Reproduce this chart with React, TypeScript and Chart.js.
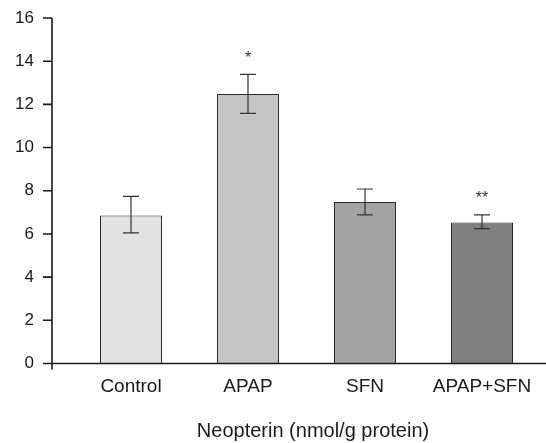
import React, { useEffect, useRef } from "react";
import { Chart, registerables } from "chart.js";

Chart.register(...registerables);

const categories = ["Control", "APAP", "SFN", "APAP+SFN"];
const means = [6.85, 12.48, 7.48, 6.53];
const errLow = [6.05, 11.58, 6.88, 6.25];
const errHigh = [7.74, 13.39, 8.08, 6.88];
const marks = ["", "*", "", "**"];
const colors = ["#e2e2e2", "#c4c5c4", "#a3a4a3", "#808080"];
const yTicks = [0, 2, 4, 6, 8, 10, 12, 14, 16];
const xTitle = "Neopterin (nmol/g protein)";

const FONT = "'Liberation Sans', Arial, sans-serif";

const overlay = {
  id: "overlay",
  afterDatasetsDraw(chart: any) {
    const ctx = chart.ctx;
    const xs = chart.scales.x;
    const ys = chart.scales.y;
    const axisX = 52;
    const bottom = ys.getPixelForValue(0);
    const top = ys.getPixelForValue(16);
    ctx.save();
    ctx.strokeStyle = "#1a1a1a";
    ctx.lineWidth = 1.6;
    ctx.beginPath();
    ctx.moveTo(axisX, top);
    ctx.lineTo(axisX, bottom + 6);
    ctx.moveTo(axisX, bottom);
    ctx.lineTo(chart.width, bottom);
    yTicks.forEach((v) => {
      const py = ys.getPixelForValue(v);
      ctx.moveTo(axisX - 9, py);
      ctx.lineTo(axisX, py);
    });
    ctx.stroke();

    ctx.strokeStyle = "#333";
    ctx.lineWidth = 1.2;
    categories.forEach((c, i) => {
      const cx = xs.getPixelForValue(i);
      const yl = ys.getPixelForValue(errLow[i]);
      const yh = ys.getPixelForValue(errHigh[i]);
      ctx.beginPath();
      ctx.moveTo(cx, yl);
      ctx.lineTo(cx, yh);
      ctx.moveTo(cx - 8, yl);
      ctx.lineTo(cx + 8, yl);
      ctx.moveTo(cx - 8, yh);
      ctx.lineTo(cx + 8, yh);
      ctx.stroke();
      if (marks[i]) {
        ctx.fillStyle = "#333";
        ctx.font = `16px ${FONT}`;
        ctx.textAlign = "center";
        ctx.textBaseline = "middle";
        ctx.fillText(marks[i], cx, yh - 16);
      }
    });

    // axis title
    ctx.fillStyle = "#1a1a1a";
    ctx.font = `20px ${FONT}`;
    ctx.textAlign = "center";
    ctx.textBaseline = "middle";
    ctx.fillText(xTitle, 313, 431);
    ctx.restore();
  },
};

export default function App() {
  const ref = useRef<HTMLCanvasElement>(null);
  useEffect(() => {
    document.body.style.margin = "0";
    const chart = new Chart(ref.current!, {
      type: "bar",
      data: {
        labels: categories,
        datasets: [
          {
            data: means,
            backgroundColor: colors,
            borderColor: "#2a2a2a",
            borderWidth: 1,
            categoryPercentage: 1,
            barPercentage: 0.53,
          },
        ],
      },
      options: {
        animation: false,
        responsive: false,
        layout: { padding: { top: 18, right: 5.5, left: 0, bottom: 0 } },
        plugins: { legend: { display: false }, tooltip: { enabled: false } },
        scales: {
          x: {
            grid: { display: false, drawTicks: false },
            border: { display: false },
            ticks: { color: "#1a1a1a", font: { family: FONT, size: 19 }, padding: 12 },
            title: { display: false },
            afterFit(scale: any) {
              scale.height = 79.5;
              scale.paddingLeft = 0;
              scale.paddingRight = 0;
            },
          },
          y: {
            min: 0,
            max: 16,
            grid: { display: false, drawTicks: false },
            border: { display: false },
            ticks: {
              stepSize: 2,
              color: "#1a1a1a",
              font: { family: FONT, size: 17 },
              padding: 38.5,
            },
            afterFit(scale: any) {
              scale.width = 72.5;
              scale.paddingTop = 0;
              scale.paddingBottom = 0;
            },
          },
        },
      },
      plugins: [overlay],
    });
    return () => chart.destroy();
  }, []);
  return <canvas ref={ref} width={546} height={443} style={{ display: "block" }} />;
}
